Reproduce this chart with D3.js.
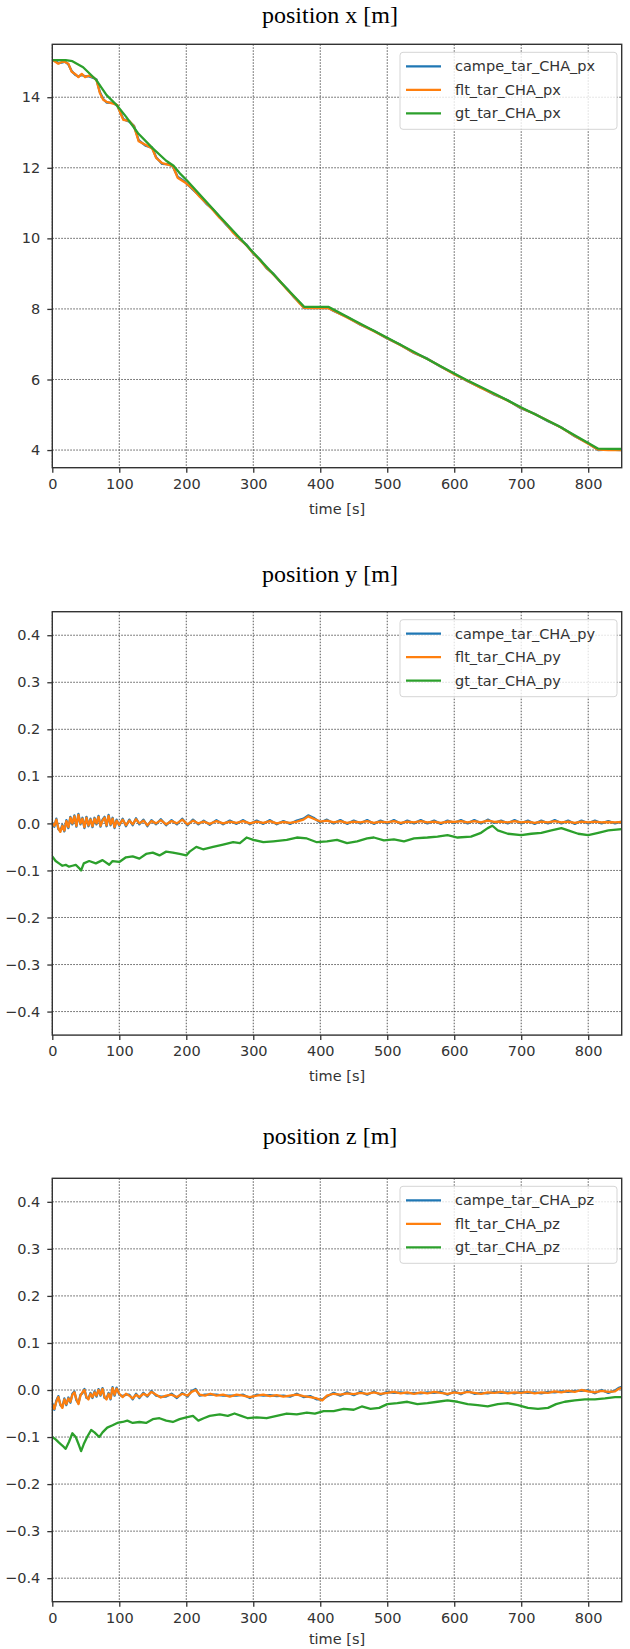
<!DOCTYPE html>
<meta charset="utf-8">
<style>
body { margin: 0; background: #fff; }
.frame { fill: none; stroke: #333; stroke-width: 1.4px; }
.grid line { stroke: #444; stroke-width: .9px; stroke-dasharray: 1.5,1.5; }
.axis path { display: none; }
.axis line { stroke: #333; stroke-width: 1.3px; }
.axis text { font-family: "DejaVu Sans"; font-size: 14.5px; fill: #333; }
.title { font-family: "Liberation Serif"; font-size: 24px; fill: #000; }
.xlabel { font-family: "DejaVu Sans"; font-size: 14.5px; fill: #333; }
.legend text { font-family: "DejaVu Sans"; font-size: 14.5px; fill: #333; }
.line { fill: none; stroke-width: 2.3px; stroke-linejoin: round; }
</style>
<body>
<script src="https://cdn.jsdelivr.net/npm/d3@7"></script>
<script>

var timeTicks = [0, 100, 200, 300, 400, 500, 600, 700, 800],
    pxTicks = [4, 6, 8, 10, 12, 14],
    pyzTicks = [-0.4, -0.3, -0.2, -0.1, 0, 0.1, 0.2, 0.3, 0.4];

var colors = ["#1f77b4", "#ff7f0e", "#2ca02c"];

// position x
var gtPx = [[0,15.05],[20,15.05],[30,15.02],[46,14.85],[66,14.48],[81,14.06],[96,13.78],[110,13.45],[128,12.98],
  [150,12.55],[170,12.2],[181,12.06],[190,11.85],[200,11.66],[250,10.62],[300,9.6],[350,8.58],[376,8.06],[412,8.06],
  [420,7.98],[450,7.68],[500,7.18],[550,6.68],[600,6.17],[617,6.0],[662,5.58],[701,5.2],[755,4.69],[785,4.36],
  [815,4.04],[850,4.03]];

var fltPx = [[0,15.06],[5,15.0],[9,14.95],[14,15.0],[19,15.0],[24,14.95],[29,14.72],[34,14.66],[39,14.57],[44,14.66],
  [49,14.57],[54,14.61],[61,14.57],[66,14.48],[71,14.12],[76,13.93],[81,13.87],[91,13.82],[97,13.78],[103,13.49],
  [106,13.36],[115,13.33],[122,13.17],[129,12.75],[139,12.65],[149,12.55],[155,12.28],[164,12.13],[174,12.08],
  [180,12.05],[187,11.72],[197,11.6],[210,11.4],[220,11.18],[230,11.0],[240,10.8],[250,10.58],[260,10.4],[270,10.16],
  [280,9.98],[290,9.8],[300,9.58],[310,9.38],[320,9.16],[330,8.98],[340,8.78],[350,8.56],[360,8.36],[370,8.14],
  [376,8.03],[390,8.02],[405,8.03],[412,8.02],[420,7.95],[440,7.76],[460,7.56],[480,7.37],[500,7.17],[520,6.97],
  [540,6.76],[560,6.58],[580,6.37],[600,6.15],[620,5.96],[640,5.76],[660,5.58],[680,5.4],[700,5.19],[720,5.02],
  [740,4.83],[760,4.63],[780,4.4],[800,4.18],[815,4.01],[830,4.0],[850,4.0]];

var campePx = [[0,15.05],[5,15.02],[9,14.97],[14,14.98],[19,15.01],[24,14.93],[29,14.74],[34,14.64],[39,14.59],
  [44,14.64],[49,14.59],[54,14.6],[61,14.55],[66,14.5],[71,14.15],[76,13.95],[81,13.85],[91,13.84],[97,13.76],
  [103,13.52],[106,13.38],[115,13.31],[122,13.19],[129,12.78],[139,12.63],[149,12.57],[155,12.3],[164,12.11],
  [174,12.1],[180,12.03],[187,11.75],[197,11.62],[210,11.38],[220,11.2],[230,10.98],[240,10.82],[250,10.6],
  [260,10.38],[270,10.18],[280,9.97],[290,9.82],[300,9.57],[310,9.4],[320,9.15],[330,9.0],[340,8.77],[350,8.58],
  [360,8.35],[370,8.16],[376,8.02],[390,8.03],[405,8.02],[412,8.03],[420,7.94],[440,7.77],[460,7.55],[480,7.38],
  [500,7.16],[520,6.98],[540,6.75],[560,6.59],[580,6.36],[600,6.16],[620,5.95],[640,5.77],[660,5.57],[680,5.41],
  [700,5.18],[720,5.03],[740,4.82],[760,4.64],[780,4.39],[800,4.19],[815,4.0],[830,4.01],[850,4.0]];

// position y
var gtPy = [[0,-0.07],[5,-0.08],[10,-0.085],[15,-0.09],[20,-0.088],[25,-0.092],[30,-0.09],[35,-0.088],[40,-0.095],
  [43,-0.1],[47,-0.085],[55,-0.08],[65,-0.085],[75,-0.078],[85,-0.088],[90,-0.08],[100,-0.082],[110,-0.072],
  [120,-0.07],[130,-0.075],[140,-0.065],[150,-0.062],[160,-0.068],[170,-0.06],[180,-0.062],[190,-0.065],
  [200,-0.068],[205,-0.06],[215,-0.05],[225,-0.055],[240,-0.05],[255,-0.045],[270,-0.04],[280,-0.042],[290,-0.03],
  [300,-0.035],[315,-0.04],[330,-0.038],[350,-0.035],[365,-0.03],[380,-0.032],[395,-0.04],[410,-0.038],[425,-0.035],
  [440,-0.042],[455,-0.038],[470,-0.032],[480,-0.03],[495,-0.036],[510,-0.034],[525,-0.038],[540,-0.032],[560,-0.03],
  [575,-0.028],[590,-0.025],[605,-0.03],[625,-0.028],[640,-0.02],[650,-0.01],[657,-0.005],[665,-0.015],[680,-0.022],
  [700,-0.025],[715,-0.022],[730,-0.02],[745,-0.015],[760,-0.01],[770,-0.015],[785,-0.022],[800,-0.025],[815,-0.02],
  [830,-0.015],[850,-0.012]];

var fltPy = [[0,0.0],[3,-0.005],[6,0.008],[9,-0.01],[12,-0.018],[15,-0.005],[18,-0.015],[21,0.005],[24,-0.008],
  [27,0.012],[30,0.0],[33,0.015],[36,-0.005],[39,0.018],[42,0.0],[45,0.01],[48,-0.008],[51,0.012],[54,-0.004],
  [57,0.008],[60,-0.006],[63,0.01],[66,0.0],[69,0.014],[72,-0.005],[75,0.006],[78,0.012],[81,-0.004],[84,0.016],
  [87,-0.002],[90,0.01],[93,-0.008],[96,0.006],[100,-0.003],[105,0.008],[110,-0.004],[115,0.006],[120,-0.002],
  [125,0.009],[130,0.0],[136,0.006],[142,-0.004],[148,0.005],[155,0.0],[162,0.007],[170,-0.002],[178,0.005],
  [186,0.0],[194,0.008],[202,-0.002],[210,0.006],[218,0.0],[226,0.004],[235,-0.001],[245,0.005],[255,0.0],
  [265,0.004],[275,0.001],[285,0.005],[295,0.0],[305,0.004],[315,0.001],[325,0.005],[335,0.0],[345,0.003],
  [355,0.001],[365,0.004],[375,0.008],[382,0.015],[390,0.01],[400,0.004],[410,0.006],[420,0.002],[430,0.005],
  [440,0.001],[450,0.004],[460,0.002],[470,0.005],[480,0.001],[490,0.004],[500,0.002],[510,0.005],[520,0.001],
  [530,0.004],[540,0.002],[550,0.005],[560,0.002],[570,0.004],[580,0.001],[590,0.004],[600,0.003],[610,0.005],
  [620,0.002],[630,0.005],[640,0.002],[650,0.006],[660,0.003],[670,0.004],[680,0.002],[690,0.005],[700,0.002],
  [710,0.004],[720,0.001],[730,0.004],[740,0.002],[750,0.005],[760,0.002],[770,0.004],[780,0.001],[790,0.004],
  [800,0.002],[810,0.004],[820,0.002],[830,0.003],[840,0.002],[850,0.003]];

var campePy = [[0,0.002],[3,-0.007],[6,0.01],[9,-0.012],[12,-0.016],[15,-0.003],[18,-0.017],[21,0.007],[24,-0.01],
  [27,0.014],[30,-0.002],[33,0.017],[36,-0.007],[39,0.02],[42,-0.002],[45,0.012],[48,-0.01],[51,0.014],[54,-0.006],
  [57,0.01],[60,-0.008],[63,0.012],[66,-0.002],[69,0.016],[72,-0.007],[75,0.008],[78,0.014],[81,-0.006],[84,0.018],
  [87,-0.004],[90,0.012],[93,-0.01],[96,0.008],[100,-0.005],[105,0.01],[110,-0.006],[115,0.008],[120,-0.004],
  [125,0.011],[130,-0.002],[136,0.008],[142,-0.006],[148,0.007],[155,-0.002],[162,0.009],[170,-0.004],[178,0.007],
  [186,-0.002],[194,0.01],[202,-0.004],[210,0.008],[218,-0.002],[226,0.006],[235,-0.003],[245,0.007],[255,-0.002],
  [265,0.006],[275,-0.001],[285,0.007],[295,-0.002],[305,0.006],[315,-0.001],[325,0.007],[335,-0.002],[345,0.005],
  [355,-0.001],[365,0.006],[375,0.01],[382,0.017],[390,0.012],[400,0.002],[410,0.008],[420,0.0],[430,0.007],
  [440,-0.001],[450,0.006],[460,0.0],[470,0.007],[480,-0.001],[490,0.006],[500,0.0],[510,0.007],[520,-0.001],
  [530,0.006],[540,0.0],[550,0.007],[560,0.0],[570,0.006],[580,-0.001],[590,0.006],[600,0.001],[610,0.007],
  [620,0.0],[630,0.007],[640,0.0],[650,0.008],[660,0.001],[670,0.006],[680,0.0],[690,0.007],[700,0.0],
  [710,0.006],[720,-0.001],[730,0.006],[740,0.0],[750,0.007],[760,0.0],[770,0.006],[780,-0.001],[790,0.006],
  [800,0.0],[810,0.006],[820,0.0],[830,0.005],[840,0.0],[850,0.004]];

// position z
var gtPz = [[0,-0.1],[5,-0.105],[10,-0.112],[15,-0.118],[20,-0.125],[25,-0.11],[30,-0.092],[35,-0.1],[40,-0.118],
  [43,-0.13],[47,-0.115],[52,-0.1],[58,-0.085],[63,-0.09],[70,-0.1],[75,-0.09],[82,-0.08],[90,-0.075],[97,-0.07],
  [105,-0.068],[112,-0.065],[120,-0.07],[130,-0.068],[140,-0.07],[150,-0.062],[160,-0.06],[170,-0.065],[180,-0.068],
  [190,-0.062],[200,-0.058],[210,-0.055],[218,-0.065],[226,-0.06],[235,-0.055],[250,-0.052],[262,-0.055],[272,-0.05],
  [282,-0.055],[292,-0.06],[305,-0.058],[320,-0.06],[335,-0.055],[350,-0.05],[365,-0.052],[380,-0.048],[392,-0.05],
  [405,-0.045],[420,-0.045],[435,-0.04],[450,-0.042],[462,-0.035],[475,-0.04],[488,-0.038],[500,-0.03],[515,-0.028],
  [530,-0.025],[545,-0.03],[560,-0.028],[575,-0.025],[590,-0.022],[605,-0.025],[620,-0.03],[635,-0.032],[650,-0.035],
  [665,-0.03],[680,-0.028],[695,-0.032],[710,-0.038],[725,-0.04],[740,-0.038],[752,-0.03],[765,-0.025],[780,-0.022],
  [795,-0.02],[810,-0.02],[825,-0.018],[840,-0.015],[850,-0.015]];

var fltPz = [[0,-0.03],[3,-0.04],[6,-0.025],[9,-0.015],[12,-0.03],[15,-0.038],[18,-0.02],[21,-0.03],[24,-0.018],
  [27,-0.025],[30,-0.01],[33,-0.005],[36,-0.02],[39,-0.03],[42,-0.012],[45,-0.005],[48,0.0],[51,-0.015],[54,-0.02],
  [57,-0.008],[60,-0.015],[63,-0.005],[66,-0.012],[69,0.0],[72,-0.01],[75,0.002],[78,-0.015],[81,-0.02],[84,-0.008],
  [87,-0.018],[90,0.004],[93,-0.01],[96,0.003],[100,-0.008],[105,-0.015],[110,-0.008],[115,-0.012],[120,-0.018],
  [125,-0.01],[130,-0.015],[136,-0.008],[142,-0.012],[148,-0.004],[155,-0.01],[162,-0.016],[170,-0.012],[178,-0.01],
  [186,-0.015],[194,-0.008],[202,-0.012],[208,-0.004],[214,0.0],[220,-0.01],[228,-0.012],[236,-0.008],[245,-0.012],
  [255,-0.01],[265,-0.014],[275,-0.01],[285,-0.012],[295,-0.015],[305,-0.012],[315,-0.01],[325,-0.013],[335,-0.011],
  [345,-0.014],[355,-0.012],[365,-0.01],[375,-0.013],[385,-0.015],[395,-0.018],[403,-0.022],[410,-0.012],[420,-0.008],
  [430,-0.01],[440,-0.007],[450,-0.009],[460,-0.006],[470,-0.008],[480,-0.005],[490,-0.008],[500,-0.006],[510,-0.004],
  [520,-0.007],[530,-0.005],[540,-0.008],[550,-0.005],[560,-0.007],[570,-0.004],[580,-0.006],[590,-0.008],[600,-0.005],
  [610,-0.007],[620,-0.004],[630,-0.006],[640,-0.008],[650,-0.005],[660,-0.006],[670,-0.004],[680,-0.007],[690,-0.005],
  [700,-0.006],[710,-0.004],[720,-0.007],[730,-0.005],[740,-0.006],[750,-0.003],[760,-0.005],[770,-0.002],[780,-0.004],
  [790,0.0],[800,-0.003],[810,-0.005],[820,-0.002],[830,-0.004],[840,-0.003],[845,0.002],[850,0.005]];

var campePz = [[0,-0.028],[3,-0.042],[6,-0.023],[9,-0.013],[12,-0.032],[15,-0.036],[18,-0.018],[21,-0.032],[24,-0.016],
  [27,-0.027],[30,-0.008],[33,-0.003],[36,-0.022],[39,-0.028],[42,-0.01],[45,-0.007],[48,0.002],[51,-0.017],[54,-0.018],
  [57,-0.006],[60,-0.017],[63,-0.003],[66,-0.014],[69,0.002],[72,-0.012],[75,0.004],[78,-0.017],[81,-0.018],[84,-0.006],
  [87,-0.02],[90,0.006],[93,-0.012],[96,0.005],[100,-0.01],[105,-0.013],[110,-0.01],[115,-0.01],[120,-0.02],
  [125,-0.008],[130,-0.017],[136,-0.006],[142,-0.014],[148,-0.002],[155,-0.012],[162,-0.014],[170,-0.014],[178,-0.008],
  [186,-0.017],[194,-0.006],[202,-0.014],[208,-0.002],[214,0.002],[220,-0.012],[228,-0.01],[236,-0.01],[245,-0.01],
  [255,-0.012],[265,-0.012],[275,-0.012],[285,-0.01],[295,-0.017],[305,-0.01],[315,-0.012],[325,-0.011],[335,-0.013],
  [345,-0.012],[355,-0.014],[365,-0.008],[375,-0.015],[385,-0.013],[395,-0.02],[403,-0.02],[410,-0.014],[420,-0.006],
  [430,-0.012],[440,-0.005],[450,-0.011],[460,-0.004],[470,-0.01],[480,-0.003],[490,-0.01],[500,-0.004],[510,-0.006],
  [520,-0.005],[530,-0.007],[540,-0.006],[550,-0.007],[560,-0.005],[570,-0.006],[580,-0.004],[590,-0.01],[600,-0.003],
  [610,-0.009],[620,-0.002],[630,-0.008],[640,-0.006],[650,-0.007],[660,-0.004],[670,-0.006],[680,-0.005],[690,-0.007],
  [700,-0.004],[710,-0.006],[720,-0.005],[730,-0.007],[740,-0.004],[750,-0.005],[760,-0.003],[770,-0.004],[780,-0.002],
  [790,-0.002],[800,-0.001],[810,-0.007],[820,0.0],[830,-0.006],[840,-0.001],[845,0.004],[850,0.007]];

var panels = [
  { title: "position x [m]", titleY: 23, top: 44.3, yDomain: [3.5, 15.5], yTicks: pxTicks, fmt: d3.format("d"),
    series: [campePx, fltPx, gtPx], names: ["campe_tar_CHA_px", "flt_tar_CHA_px", "gt_tar_CHA_px"] },
  { title: "position y [m]", titleY: 582, top: 611.7, yDomain: [-0.45, 0.45], yTicks: pyzTicks, fmt: d3.format(".1f"),
    series: [campePy, fltPy, gtPy], names: ["campe_tar_CHA_py", "flt_tar_CHA_py", "gt_tar_CHA_py"] },
  { title: "position z [m]", titleY: 1144, top: 1178.3, yDomain: [-0.45, 0.45], yTicks: pyzTicks, fmt: d3.format(".1f"),
    series: [campePz, fltPz, gtPz], names: ["campe_tar_CHA_pz", "flt_tar_CHA_pz", "gt_tar_CHA_pz"] }
];

var width = 630, height = 1649,
    left = 52.3, right = 621.7, plotH = 423.4;

var svg = d3.select("body").append("svg")
    .attr("width", width)
    .attr("height", height);

var x = d3.scaleLinear().domain([0, 850]).range([left, right]);

panels.forEach(function(p, i) {
  var y = d3.scaleLinear().domain(p.yDomain).range([p.top + plotH, p.top]);
  var g = svg.append("g");

  g.append("text")
      .attr("class", "title")
      .attr("x", 330)
      .attr("y", p.titleY)
      .attr("text-anchor", "middle")
      .text(p.title);

  g.append("clipPath").attr("id", "clip" + i)
    .append("rect")
      .attr("x", left).attr("y", p.top)
      .attr("width", right - left).attr("height", plotH);

  // grid
  var grid = g.append("g").attr("class", "grid");
  grid.selectAll(".gx").data(timeTicks).enter().append("line")
      .attr("x1", x).attr("x2", x)
      .attr("y1", p.top).attr("y2", p.top + plotH);
  grid.selectAll(".gy").data(p.yTicks).enter().append("line")
      .attr("x1", left).attr("x2", right)
      .attr("y1", y).attr("y2", y);

  var line = d3.line()
      .x(function(d) { return x(d[0]); })
      .y(function(d) { return y(d[1]); });

  g.append("g").attr("clip-path", "url(#clip" + i + ")")
    .selectAll("path").data(p.series).enter().append("path")
      .attr("class", "line")
      .attr("stroke", function(d, j) { return colors[j]; })
      .attr("d", line);

  g.append("rect")
      .attr("class", "frame")
      .attr("x", left).attr("y", p.top)
      .attr("width", right - left).attr("height", plotH);

  g.append("g")
      .attr("class", "axis")
      .attr("transform", "translate(0," + (p.top + plotH) + ")")
      .call(d3.axisBottom(x).tickValues(timeTicks).tickSize(5).tickPadding(6));

  g.append("g")
      .attr("class", "axis")
      .attr("transform", "translate(" + left + ",0)")
      .call(d3.axisLeft(y).tickValues(p.yTicks).tickFormat(p.fmt).tickSize(5).tickPadding(7));

  g.append("text")
      .attr("class", "xlabel")
      .attr("x", 337)
      .attr("y", Math.min(p.top + plotH + 46, height - 5))
      .attr("text-anchor", "middle")
      .text("time [s]");

  // legend
  var lg = g.append("g").attr("class", "legend")
      .attr("transform", "translate(400," + (p.top + 8) + ")");
  lg.append("rect")
      .attr("width", 217).attr("height", 77)
      .attr("rx", 3)
      .attr("fill", "#fff").attr("fill-opacity", 0.8)
      .attr("stroke", "#d5d5d5");
  var item = lg.selectAll(".item").data(p.names).enter().append("g")
      .attr("transform", function(d, j) { return "translate(0," + (14 + j * 23.5) + ")"; });
  item.append("line")
      .attr("x1", 6).attr("x2", 41)
      .attr("stroke", function(d, j) { return colors[j]; })
      .attr("stroke-width", 2.3);
  item.append("text")
      .attr("x", 55)
      .attr("dy", "0.35em")
      .text(function(d) { return d; });
});

</script>
